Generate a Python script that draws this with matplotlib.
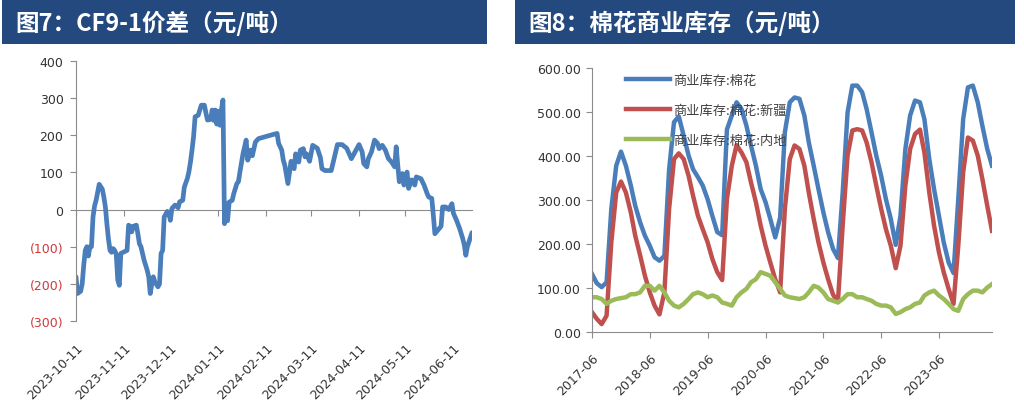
import matplotlib
matplotlib.use("Agg")
import matplotlib.pyplot as plt
import matplotlib.dates as mdates
import pandas as pd
from matplotlib.patches import Rectangle
from matplotlib.ticker import FixedLocator, NullFormatter

plt.rcParams['font.family'] = ['DejaVu Sans', 'Noto Sans CJK SC']

# ---- chart 7: CF9-1 spread ----
spread_dates = [
    "2023-10-11", "2023-10-12", "2023-10-14", "2023-10-15", "2023-10-16", "2023-10-17", "2023-10-18",
    "2023-10-19", "2023-10-20", "2023-10-21", "2023-10-22", "2023-10-23", "2023-10-24", "2023-10-26",
    "2023-10-28", "2023-10-29", "2023-10-30", "2023-10-31",
    "2023-11-01", "2023-11-02", "2023-11-03", "2023-11-04", "2023-11-05", "2023-11-06", "2023-11-07",
    "2023-11-08", "2023-11-09", "2023-11-11", "2023-11-13", "2023-11-14", "2023-11-15", "2023-11-16",
    "2023-11-17", "2023-11-19", "2023-11-20", "2023-11-21", "2023-11-22", "2023-11-24", "2023-11-26",
    "2023-11-27", "2023-11-28", "2023-11-29", "2023-11-30",
    "2023-12-01", "2023-12-03", "2023-12-04", "2023-12-05", "2023-12-06", "2023-12-07", "2023-12-09",
    "2023-12-10", "2023-12-11", "2023-12-12", "2023-12-14", "2023-12-16", "2023-12-17", "2023-12-19",
    "2023-12-20", "2023-12-22", "2023-12-23", "2023-12-24", "2023-12-25", "2023-12-26", "2023-12-27",
    "2023-12-29", "2023-12-31",
    "2024-01-02", "2024-01-03", "2024-01-04", "2024-01-06", "2024-01-07", "2024-01-08", "2024-01-09",
    "2024-01-10", "2024-01-11", "2024-01-12", "2024-01-13", "2024-01-14", "2024-01-15", "2024-01-16",
    "2024-01-17", "2024-01-18", "2024-01-20", "2024-01-21", "2024-01-23", "2024-01-24", "2024-01-25",
    "2024-01-27", "2024-01-29", "2024-01-30",
    "2024-02-01", "2024-02-02", "2024-02-04", "2024-02-06", "2024-02-11", "2024-02-18", "2024-02-19",
    "2024-02-21", "2024-02-22", "2024-02-23", "2024-02-25", "2024-02-26", "2024-02-27", "2024-02-29",
    "2024-03-01", "2024-03-03", "2024-03-04", "2024-03-06", "2024-03-07", "2024-03-08", "2024-03-10",
    "2024-03-12", "2024-03-15", "2024-03-17", "2024-03-18", "2024-03-20", "2024-03-24", "2024-03-26",
    "2024-03-28", "2024-03-31",
    "2024-04-03", "2024-04-06", "2024-04-09", "2024-04-11", "2024-04-13", "2024-04-14", "2024-04-16",
    "2024-04-17", "2024-04-19", "2024-04-21", "2024-04-23", "2024-04-24", "2024-04-26", "2024-04-28",
    "2024-04-30",
    "2024-05-02", "2024-05-04", "2024-05-05", "2024-05-06", "2024-05-07", "2024-05-09", "2024-05-10",
    "2024-05-12", "2024-05-13", "2024-05-15", "2024-05-17", "2024-05-18", "2024-05-21", "2024-05-23",
    "2024-05-25", "2024-05-26", "2024-05-28", "2024-05-29", "2024-05-30", "2024-05-31",
    "2024-06-03", "2024-06-04", "2024-06-06", "2024-06-08", "2024-06-10", "2024-06-11", "2024-06-13",
    "2024-06-15", "2024-06-17", "2024-06-18", "2024-06-19", "2024-06-20", "2024-06-22", "2024-06-23",
]
spread_values = [
    -181, -226, -220, -200, -150, -110, -100, -125, -100, -100, -20, 10, 25, 68, 55, 34, 7, -40,
    -80, -110, -115, -105, -110, -120, -190, -204, -118, -114, -110, -42, -45, -60, -45, -42, -65,
    -92, -100, -136, -163, -181, -226, -200, -181,
    -195, -208, -200, -118, -110, -20, -5, -10, -29, 3, 12, 5, 21, 25, 60, 84, 102, 128, 160, 196,
    250, 254, 281,
    281, 260, 241, 243, 268, 240, 268, 230, 265, 227, 268, 295, -38, 15, -30, 20, 25, 43, 70, 75,
    102, 151, 187, 133,
    160, 145, 182, 191, 197, 205, 178, 160, 133, 119, 70, 100, 130, 110,
    150, 128, 160, 164, 142, 150, 130, 173, 165, 140, 110, 105, 105, 140, 175, 175,
    165, 137, 160, 175, 155, 124, 115, 137, 155, 187, 178, 164, 173, 160, 137,
    128, 115, 169, 120, 75, 97, 66, 101, 57, 80, 66, 88, 83, 66, 43, 34, 30, -15, -65, -60,
    -45, 7, 7, 0, 16, -10, -29, -51, -78, -95, -123, -100, -75, -62,
]
spread_ticks = pd.date_range("2023-10-11", "2024-06-11", freq=pd.DateOffset(months=1))
spread_yticks = [-300, -200, -100, 0, 100, 200, 300, 400]

# ---- chart 8: commercial cotton stock, monthly from 2017-06 ----
stock_start = "2017-06-01"
stock_total = [
    132, 111, 102, 113, 280, 378, 410, 378, 333, 287, 249, 219, 196, 170, 162, 173,
    370, 477, 490, 446, 401, 370, 352, 333, 302, 264, 227, 220,
    460, 492, 522, 507, 469, 424, 378, 325, 295, 257, 215, 260,
    454, 522, 533, 530, 492, 431, 378, 325, 272, 227, 189, 168,
    317, 499, 560, 560, 545, 507, 454, 401, 355, 302, 257, 198,
    264, 416, 492, 526, 522, 484, 393, 325, 264, 204, 158, 134,
    302, 484, 556, 560, 522, 469, 416, 378,
]
stock_xinjiang = [
    45, 30, 18, 37, 204, 317, 342, 317, 272, 219, 174, 128, 90, 60, 40, 90,
    280, 393, 406, 393, 355, 310, 264, 234, 204, 166, 136, 118,
    302, 378, 425, 408, 386, 340, 295, 242, 196, 158, 120, 90,
    280, 393, 424, 416, 378, 317, 257, 204, 158, 120, 85, 68,
    242, 401, 458, 461, 458, 431, 386, 333, 280, 234, 196, 145,
    196, 333, 416, 450, 460, 408, 317, 242, 181, 136, 98, 64,
    196, 363, 442, 435, 401, 348, 287, 230,
]
stock_inland = [
    79, 79, 75, 64, 71, 75, 77, 79, 86, 86, 90, 105, 105, 94, 105, 90,
    71, 60, 56, 64, 75, 86, 90, 86, 79, 83, 79, 67,
    64, 60, 79, 90, 98, 113, 120, 136, 132, 128, 113, 98,
    83, 79, 77, 75, 79, 90, 105, 101, 90, 75, 71, 67,
    75, 86, 86, 79, 79, 75, 71, 64, 60, 60, 56, 41,
    45, 52, 56, 64, 67, 83, 90, 94, 83, 75, 64, 52,
    48, 75, 86, 94, 94, 90, 101, 109,
]
stock_labels = ["商业库存:棉花", "商业库存:棉花:新疆", "商业库存:棉花:内地"]
stock_yticks = [0, 100, 200, 300, 400, 500, 600]

titles = ["图7：CF9-1价差（元/吨）", "图8：棉花商业库存（元/吨）"]

NAVY = "#23497E"
BLUE = "#4A7EBB"
RED = "#C0504D"
GREEN = "#9BBB59"
GRAY = "#8C8C8C"
TXT = "#333333"
NEG = "#D0393A"

W, H = 1024, 410
fig = plt.figure(figsize=(W / 100, H / 100), dpi=100)

# title bars
for x0, w, title in [(2, 485, titles[0]), (515, 500, titles[1])]:
    fig.add_artist(Rectangle((x0 / W, 1 - 45 / H), w / W, 45 / H, transform=fig.transFigure,
                             facecolor=NAVY, edgecolor="none"))
    fig.text((x0 + 13) / W, 1 - 23 / H, title, color="white", fontsize=17, fontweight="bold",
             family=["Noto Sans CJK SC", "DejaVu Sans"], ha="left", va="center")

# ---- left chart ----
ax1 = fig.add_axes([76 / W, 1 - 322 / H, 396 / W, 260 / H])
ax1.plot(pd.to_datetime(spread_dates), spread_values, color=BLUE, lw=3.4,
         solid_joinstyle="round", solid_capstyle="round")
ax1.set_ylim(-300, 400)
ax1.set_xlim(pd.Timestamp("2023-10-11"), pd.Timestamp("2024-06-23"))
ax1.set_yticks(spread_yticks)
ax1.set_yticklabels([f"({abs(v)})" if v < 0 else str(v) for v in spread_yticks])
for lbl, v in zip(ax1.get_yticklabels(), spread_yticks):
    lbl.set_color(NEG if v < 0 else TXT)
ax1.set_xticks(spread_ticks)
ax1.set_xticklabels([t.strftime("%Y-%m-%d") for t in spread_ticks], rotation=45,
                    ha="right", va="top", rotation_mode="anchor", color=TXT)
ax1.tick_params(axis="x", length=0, pad=14, labelsize=9)
ax1.tick_params(axis="y", length=4, color=GRAY, width=0.8, pad=5, labelsize=9)
for s in ["top", "right", "bottom"]:
    ax1.spines[s].set_visible(False)
ax1.spines["left"].set_color(GRAY)
ax1.spines["left"].set_linewidth(0.8)

# zero line with month ticks
ymin, ymax = ax1.get_ylim()
zero_axis = ax1.secondary_xaxis((0 - ymin) / (ymax - ymin))
zero_axis.xaxis.set_major_locator(FixedLocator(mdates.date2num(spread_ticks)))
zero_axis.xaxis.set_major_formatter(NullFormatter())
zero_axis.tick_params(length=4, color=GRAY, width=0.8)
zero_axis.spines["bottom"].set_color(GRAY)
zero_axis.spines["bottom"].set_linewidth(0.8)

# ---- right chart ----
stock_dates = pd.date_range(stock_start, periods=len(stock_total), freq="MS")
ax2 = fig.add_axes([592 / W, 1 - 333 / H, 400 / W, 264 / H])
for vals, col, lab in zip([stock_total, stock_xinjiang, stock_inland], [BLUE, RED, GREEN], stock_labels):
    ax2.plot(stock_dates, vals, color=col, lw=3.2, label=lab, solid_joinstyle="round")
ax2.set_ylim(0, 600)
ax2.set_xlim(stock_dates[0], stock_dates[-1])
ax2.set_yticks(stock_yticks)
ax2.set_yticklabels([f"{v:.2f}" for v in stock_yticks], color=TXT)
stock_ticks = pd.date_range(stock_start, "2023-06-01", freq="12MS")
ax2.set_xticks(stock_ticks)
ax2.set_xticklabels([t.strftime("%Y-%m") for t in stock_ticks], rotation=45,
                    ha="right", va="top", rotation_mode="anchor", color=TXT)
ax2.tick_params(axis="x", length=4, color=GRAY, width=0.8, pad=10, labelsize=9)
ax2.tick_params(axis="y", length=4, color=GRAY, width=0.8, pad=4, labelsize=9)
for s in ["top", "right"]:
    ax2.spines[s].set_visible(False)
for s in ["left", "bottom"]:
    ax2.spines[s].set_color(GRAY)
    ax2.spines[s].set_linewidth(0.8)

ax2.legend(loc="upper left", bbox_to_anchor=(626 / W, 1 - 75 / H), bbox_transform=fig.transFigure,
           frameon=False, borderpad=0, borderaxespad=0, handlelength=3.3, handletextpad=0.3,
           labelspacing=1.28, labelcolor="#404040",
           prop={"family": ["Noto Sans CJK SC", "DejaVu Sans"], "size": 9.5})

fig.savefig("out.png", dpi=100)
